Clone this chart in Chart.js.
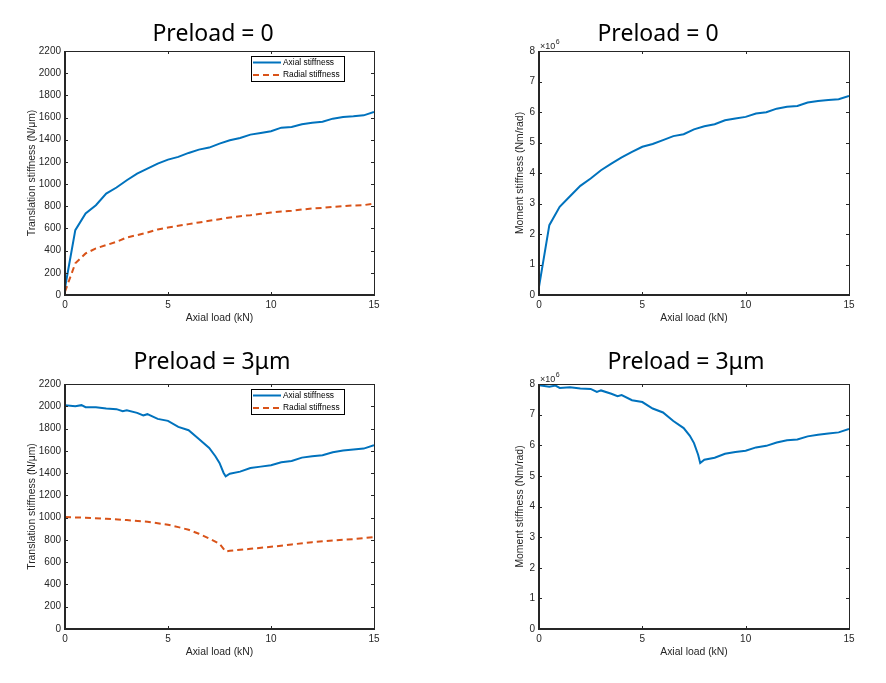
<!DOCTYPE html>
<html>
<head>
<meta charset="utf-8">
<title>Stiffness vs axial load</title>
<script src="https://cdn.jsdelivr.net/npm/chart.js@4.4.1/dist/chart.umd.min.js"></script>
<style>
  body { margin: 0; background: #fff; }
  #wrap { position: relative; width: 886px; height: 683px; }
  canvas { position: absolute; }
</style>
</head>
<body>
<div id="wrap">
  <canvas id="transZero" width="443" height="340" style="left:0;top:0"></canvas>
  <canvas id="momentZero" width="443" height="340" style="left:443px;top:0"></canvas>
  <canvas id="transPre" width="443" height="334" style="left:0;top:340px"></canvas>
  <canvas id="momentPre" width="443" height="334" style="left:443px;top:340px"></canvas>
</div>
<script>
// Data (load in kN, stiffness in N/um, moment in 1e6 Nm/rad)
const loadTop = [0, 0.5, 1, 1.5, 2, 2.5, 3, 3.5, 4, 4.5, 5, 5.5, 6, 6.5, 7, 7.5,
  8, 8.5, 9, 9.5, 10, 10.5, 11, 11.5, 12, 12.5, 13, 13.5, 14, 14.5, 15];
const axialTop = [65, 585, 735, 810, 915, 969, 1035, 1095, 1140, 1185, 1221, 1245, 1281, 1311, 1329, 1365,
  1395, 1416, 1446, 1461, 1476, 1509, 1515, 1539, 1554, 1563, 1590, 1605, 1611, 1620, 1650];
const radialTop = [30, 285, 375, 420, 450, 480, 519, 540, 564, 591, 609, 624, 639, 654, 669, 684,
  699, 711, 720, 732, 744, 753, 759, 771, 780, 786, 795, 801, 807, 810, 825];
const momentTop = [0.27, 2.29, 2.89, 3.24, 3.58, 3.82, 4.09, 4.31, 4.51, 4.69, 4.86, 4.95, 5.08, 5.21, 5.27, 5.43,
  5.53, 5.60, 5.73, 5.79, 5.84, 5.95, 5.99, 6.11, 6.17, 6.20, 6.31, 6.36, 6.39, 6.42, 6.53];

const loadPre = [0, 0.5, 0.8, 1, 1.5, 2, 2.5, 2.8, 3, 3.5, 3.8, 4, 4.5, 5, 5.5, 6, 6.5, 7, 7.3, 7.5, 7.7, 7.8,
  8, 8.5, 9, 9.5, 10, 10.5, 11, 11.5, 12, 12.5, 13, 13.5, 14, 14.5, 15];
const axialPre = [2010, 2001, 2010, 1992, 1992, 1980, 1974, 1956, 1965, 1941, 1917, 1929, 1887, 1869, 1815, 1785,
  1707, 1626, 1551, 1491, 1401, 1371, 1395, 1413, 1446, 1458, 1470, 1497, 1509, 1539, 1551, 1560, 1587, 1602,
  1611, 1620, 1650];
const momentPre = [7.96, 7.91, 7.95, 7.87, 7.89, 7.85, 7.84, 7.74, 7.79, 7.68, 7.60, 7.64, 7.47, 7.41, 7.20, 7.07,
  6.79, 6.56, 6.31, 6.07, 5.69, 5.42, 5.53, 5.59, 5.72, 5.78, 5.82, 5.93, 5.98, 6.09, 6.16, 6.19, 6.29, 6.34,
  6.38, 6.42, 6.53];
const loadRadialPre = [0, 1, 2, 3, 4, 5, 5.5, 6, 6.5, 7, 7.5, 7.8, 8, 8.5, 9, 10, 11, 12, 13, 14, 15];
const radialPre = [1005, 999, 990, 978, 963, 936, 915, 891, 855, 813, 765, 696, 702, 711, 720, 738, 759, 780,
  795, 807, 825];

const xTicks = [0, 5, 10, 15];
const transTicks = [0, 200, 400, 600, 800, 1000, 1200, 1400, 1600, 1800, 2000, 2200];
const momentTicks = [0, 1, 2, 3, 4, 5, 6, 7, 8];

const BLUE = '#0072BD';
const ORANGE = '#D95319';
const INK = '#262626';
const FONT = '"Liberation Sans", Arial, sans-serif';

function series(label, xs, ys, color, dash) {
  return {
    label: label,
    data: xs.map((x, i) => ({ x: x, y: ys[i] })),
    borderColor: color,
    backgroundColor: color,
    borderDash: dash || [],
    borderWidth: 2,
    pointRadius: 0,
    tension: 0,
    fill: false
  };
}

// MATLAB-style box, inward ticks, title, exponent and boxed legend
const matlabFrame = {
  id: 'matlabFrame',
  afterDraw(chart, args, opts) {
    const { ctx, chartArea: a, scales } = chart;
    ctx.save();

    // inward tick marks on all four sides
    ctx.strokeStyle = INK;
    ctx.lineWidth = 1;
    ctx.beginPath();
    scales.x.ticks.forEach(t => {
      const px = Math.round(scales.x.getPixelForValue(t.value)) + 0.5;
      ctx.moveTo(px, a.bottom); ctx.lineTo(px, a.bottom - 3);
      ctx.moveTo(px, a.top); ctx.lineTo(px, a.top + 3);
    });
    scales.y.ticks.forEach(t => {
      const py = Math.round(scales.y.getPixelForValue(t.value)) + 0.5;
      ctx.moveTo(a.left, py); ctx.lineTo(a.left + 3, py);
      ctx.moveTo(a.right, py); ctx.lineTo(a.right - 3, py);
    });
    ctx.stroke();

    // box: thin top/right, heavier left/bottom
    ctx.beginPath();
    ctx.moveTo(a.left, a.top + 0.5); ctx.lineTo(a.right + 0.5, a.top + 0.5); ctx.lineTo(a.right + 0.5, a.bottom);
    ctx.stroke();
    ctx.lineWidth = 2;
    ctx.beginPath();
    ctx.moveTo(a.left, a.top); ctx.lineTo(a.left, a.bottom); ctx.lineTo(a.right + 1, a.bottom);
    ctx.stroke();

    // title
    ctx.fillStyle = '#000';
    ctx.font = '23px "Noto Sans", sans-serif';
    ctx.textAlign = 'center';
    ctx.textBaseline = 'alphabetic';
    ctx.fillText(opts.title, opts.titleX, opts.titleY);

    // x 10^6 exponent label
    if (opts.exponent) {
      ctx.fillStyle = INK;
      ctx.textAlign = 'left';
      ctx.font = '9px ' + FONT;
      const base = '\u00d710';
      ctx.fillText(base, a.left + 1, a.top - 2.5);
      const w = ctx.measureText(base).width;
      ctx.font = '7px ' + FONT;
      ctx.fillText(opts.exponent, a.left + 1.5 + w, a.top - 7);
    }

    // boxed legend in the upper right
    if (opts.legend) {
      const bx = a.right - 123, by = a.top + 5, bw = 93, bh = 25;
      ctx.fillStyle = '#fff';
      ctx.fillRect(bx, by, bw, bh);
      ctx.strokeStyle = '#000';
      ctx.lineWidth = 1;
      ctx.setLineDash([]);
      ctx.strokeRect(bx + 0.5, by + 0.5, bw, bh);
      ctx.font = '8.4px ' + FONT;
      ctx.textAlign = 'left';
      ctx.textBaseline = 'middle';
      chart.data.datasets.forEach((ds, i) => {
        const ry = by + 6.5 + i * 12.5;
        ctx.strokeStyle = ds.borderColor;
        ctx.lineWidth = ds.borderWidth;
        ctx.setLineDash(ds.borderDash);
        ctx.beginPath();
        ctx.moveTo(bx + 2, ry); ctx.lineTo(bx + 30, ry);
        ctx.stroke();
        ctx.setLineDash([]);
        ctx.fillStyle = '#000';
        ctx.fillText(ds.label, bx + 32, ry);
      });
    }
    ctx.restore();
  }
};

function makePlot(id, cfg) {
  const tickFont = { family: FONT, size: 10 };
  const titleFont = { family: FONT, size: 10.4 };
  return new Chart(document.getElementById(id), {
    type: 'line',
    data: { datasets: cfg.datasets },
    options: {
      responsive: false,
      animation: false,
      devicePixelRatio: 1,
      layout: { padding: { top: cfg.top, right: 443 - cfg.right, left: 0, bottom: 0 } },
      plugins: {
        legend: { display: false },
        tooltip: { enabled: false },
        matlabFrame: cfg.frame
      },
      scales: {
        x: {
          type: 'linear',
          min: xTicks[0],
          max: xTicks[xTicks.length - 1],
          afterFit: s => { s.height = 45; },
          afterBuildTicks: s => { s.ticks = xTicks.map(v => ({ value: v })); },
          grid: { display: false, drawTicks: false },
          border: { display: false },
          ticks: { color: INK, font: tickFont, padding: 4, maxRotation: 0, callback: v => String(v) },
          title: {
            display: true, text: 'Axial load (kN)', color: INK, font: titleFont,
            padding: { top: 0, bottom: 16 }
          }
        },
        y: {
          type: 'linear',
          min: cfg.yTicks[0],
          max: cfg.yTicks[cfg.yTicks.length - 1],
          afterFit: s => { s.width = cfg.left; },
          afterBuildTicks: s => { s.ticks = cfg.yTicks.map(v => ({ value: v })); },
          grid: { display: false, drawTicks: false },
          border: { display: false },
          ticks: { color: INK, font: tickFont, padding: 4, callback: v => String(v) },
          title: {
            display: true, text: cfg.yTitle, color: INK, font: titleFont,
            padding: { top: cfg.yTitleX - 6, bottom: 0 }
          }
        }
      }
    },
    plugins: [matlabFrame]
  });
}

makePlot('transZero', {
  top: 51, left: 65, right: 374, yTicks: transTicks, yTitleX: 32,
  yTitle: 'Translation stiffness (N/\u03bcm)',
  datasets: [
    series('Axial stiffness', loadTop, axialTop, BLUE),
    series('Radial stiffness', loadTop, radialTop, ORANGE, [6, 4])
  ],
  frame: { title: 'Preload = 0', titleX: 213, titleY: 41, legend: true }
});

makePlot('momentZero', {
  top: 51, left: 96, right: 406, yTicks: momentTicks, yTitleX: 77,
  yTitle: 'Moment stiffness (Nm/rad)',
  datasets: [series('Moment stiffness', loadTop, momentTop, BLUE)],
  frame: { title: 'Preload = 0', titleX: 215, titleY: 41, exponent: '6' }
});

makePlot('transPre', {
  top: 44, left: 65, right: 374, yTicks: transTicks, yTitleX: 32,
  yTitle: 'Translation stiffness (N/\u03bcm)',
  datasets: [
    series('Axial stiffness', loadPre, axialPre, BLUE),
    series('Radial stiffness', loadRadialPre, radialPre, ORANGE, [6, 4])
  ],
  frame: { title: 'Preload = 3\u03bcm', titleX: 212, titleY: 29, legend: true }
});

makePlot('momentPre', {
  top: 44, left: 96, right: 406, yTicks: momentTicks, yTitleX: 77,
  yTitle: 'Moment stiffness (Nm/rad)',
  datasets: [series('Moment stiffness', loadPre, momentPre, BLUE)],
  frame: { title: 'Preload = 3\u03bcm', titleX: 243, titleY: 29, exponent: '6' }
});
</script>
</body>
</html>
